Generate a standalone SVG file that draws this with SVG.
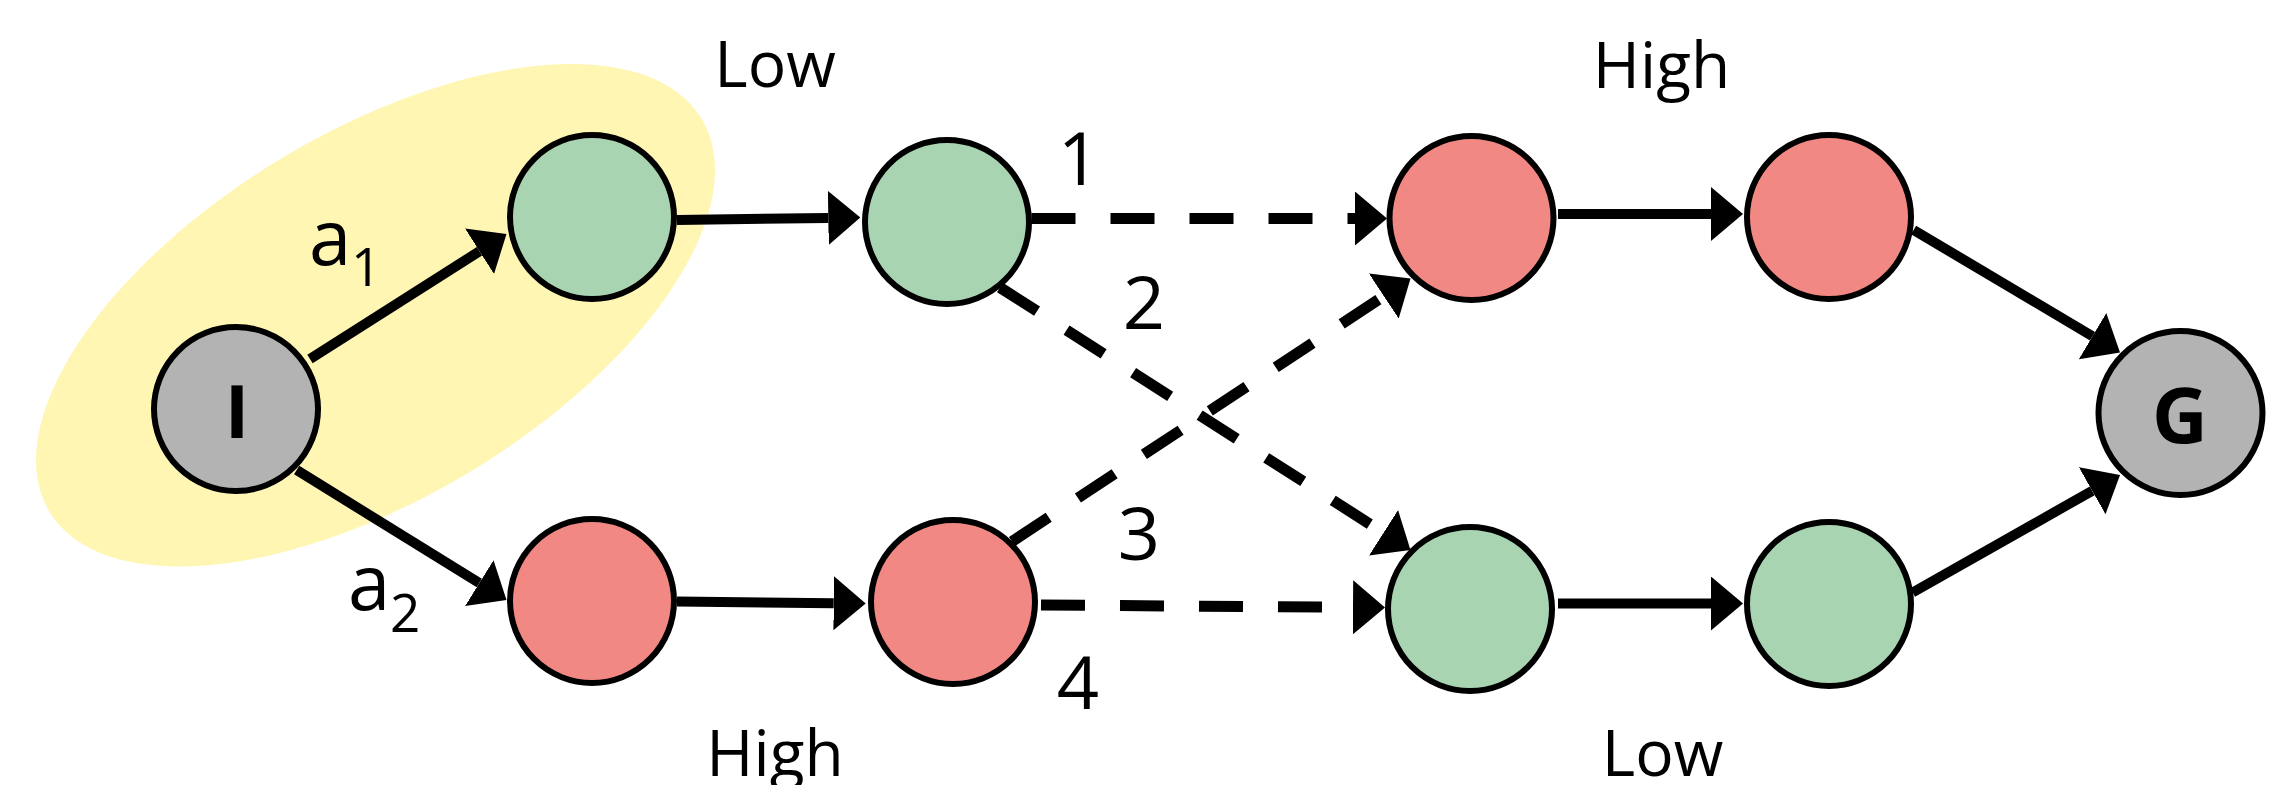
<svg xmlns="http://www.w3.org/2000/svg" width="2283" height="785" viewBox="0 0 2283 785">
  <style>
    .node { stroke: #000; stroke-width: 6; }
    .green { fill: #A9D4B2; }
    .red { fill: #F18883; }
    .gray { fill: #B2B3B2; }
    .edge { fill: none; stroke: #000; stroke-width: 10; marker-end: url(#arrow); }
    .dashed { stroke-width: 11; stroke-dasharray: 44 35; }
    .lbl { font-family: "Open Sans", "Liberation Sans", sans-serif; fill: #000; }
    .big { font-size: 64px; text-anchor: middle; }
    .num { font-size: 74px; text-anchor: middle; }
    .bold { font-weight: bold; text-anchor: middle; }
  </style>
  <defs>
    <marker id="arrow" viewBox="0 0 32 54" refX="0" refY="27" markerWidth="32" markerHeight="54" markerUnits="userSpaceOnUse" orient="auto">
      <path d="M0,0 L32,27 L0,54 Z" fill="#000"/>
    </marker>
  </defs>
  <rect width="2283" height="785" fill="#fff"/>

  <ellipse id="highlight" cx="375.5" cy="315.25" rx="380.7" ry="182.9" transform="rotate(-31.06 375.5 315.25)" fill="#FFF6B3"/>

  <g id="connectors">
    <path class="edge" d="M310,359 L479.5,251.2"/>
    <path class="edge" d="M296.7,470 L479.3,583.1"/>
    <path class="edge" d="M677,220 L828.3,217.9"/>
    <path class="edge" d="M677,601.5 L833.7,603.2"/>
    <path class="edge dashed" d="M1031.5,218.5 L1355,218.5"/>
    <path class="edge dashed" d="M1000,287.5 L1383.5,532.8"/>
    <path class="edge dashed" d="M1012,541.5 L1383.8,296.1"/>
    <path class="edge dashed" d="M1041,605 L1353,607.3"/>
    <path class="edge" d="M1558,214 L1711,214"/>
    <path class="edge" d="M1558,603.5 L1711,603.5"/>
    <path class="edge" d="M1913.6,230 L2092.5,336.2"/>
    <path class="edge" d="M1912.6,592.5 L2092.2,490.8"/>
  </g>

  <g id="node-I">
    <circle class="node gray" cx="236" cy="409" r="82"/>
    <text class="lbl bold" x="237" y="437.7" font-size="74">I</text>
  </g>
  <g id="node-A1"><circle class="node green" cx="592" cy="217" r="82"/></g>
  <g id="node-A2"><circle class="node red" cx="592" cy="601" r="82"/></g>
  <g id="node-B1"><circle class="node green" cx="947" cy="222" r="82"/></g>
  <g id="node-B2"><circle class="node red" cx="953" cy="602" r="82"/></g>
  <g id="node-C1"><circle class="node red" cx="1471.5" cy="218" r="82"/></g>
  <g id="node-C2"><circle class="node green" cx="1470" cy="609" r="82"/></g>
  <g id="node-D1"><circle class="node red" cx="1829" cy="217" r="82"/></g>
  <g id="node-D2"><circle class="node green" cx="1829" cy="604" r="82"/></g>
  <g id="node-G">
    <circle class="node gray" cx="2180.5" cy="413" r="82"/>
    <text class="lbl bold" x="2180" y="442.5" font-size="77">G</text>
  </g>

  <g id="labels">
    <text class="lbl big" x="775" y="86.7">Low</text>
    <text class="lbl big" x="775" y="776">High</text>
    <text class="lbl big" x="1661.5" y="88">High</text>
    <text class="lbl big" x="1662.5" y="776">Low</text>
    <text class="lbl" x="309" y="265" font-size="76">a<tspan x="351" y="286" font-size="53">1</tspan></text>
    <text class="lbl" x="348" y="610" font-size="76">a<tspan x="390" y="632" font-size="53">2</tspan></text>
    <text class="lbl num" x="1079" y="185">1</text>
    <text class="lbl num" x="1144" y="328.5">2</text>
    <text class="lbl num" x="1139" y="560">3</text>
    <text class="lbl num" x="1078" y="709">4</text>
  </g>
</svg>
